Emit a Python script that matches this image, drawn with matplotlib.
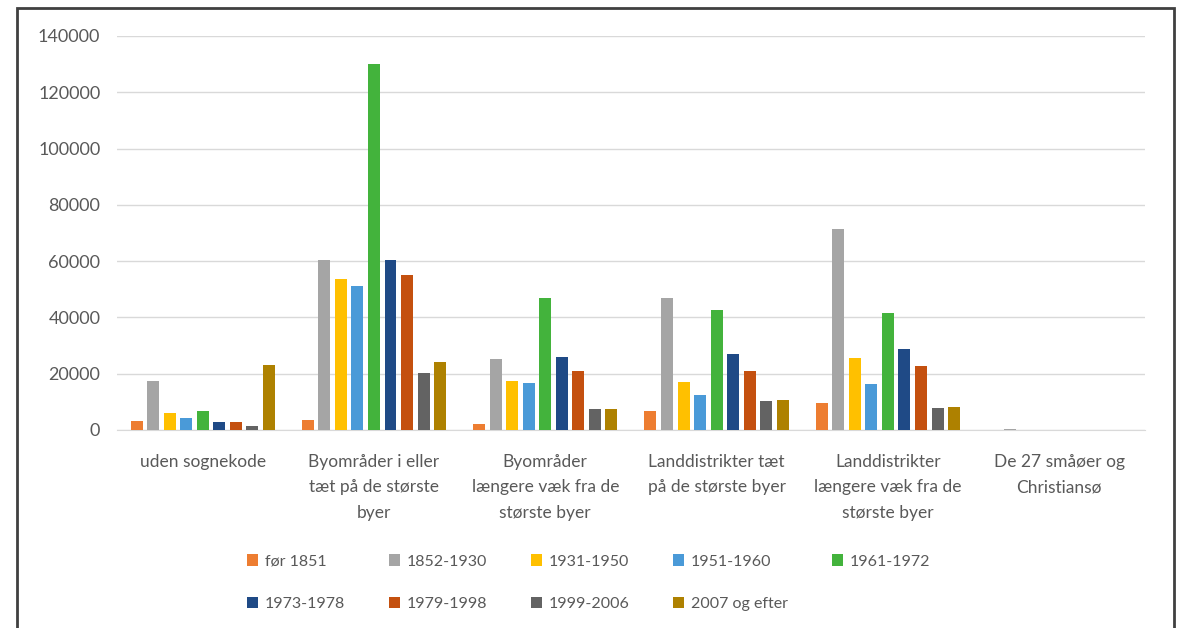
import matplotlib
matplotlib.use("Agg")
import matplotlib.pyplot as plt
import numpy as np
from matplotlib.patches import Rectangle

categories = [
    "uden sognekode",
    "Byområder i eller\ntæt på de største\nbyer",
    "Byområder\nlængere væk fra de\nstørste byer",
    "Landdistrikter tæt\npå de største byer",
    "Landdistrikter\nlængere væk fra de\nstørste byer",
    "De 27 småøer og\nChristiansø",
]
periods = ["før 1851", "1852-1930", "1931-1950", "1951-1960", "1961-1972",
           "1973-1978", "1979-1998", "1999-2006", "2007 og efter"]
colors = ["#ED7D31", "#A5A5A5", "#FFC000", "#4A9AD8", "#43B33C",
          "#1F4A86", "#C4500F", "#636363", "#AE8100"]

foer_1851 = [3200, 3600, 2000, 6700, 9600, 0]
p1852_1930 = [17500, 60500, 25200, 47000, 71500, 400]
p1931_1950 = [6100, 53500, 17500, 17000, 25500, 0]
p1951_1960 = [4200, 51000, 16800, 12400, 16500, 0]
p1961_1972 = [6700, 130000, 47000, 42500, 41500, 0]
p1973_1978 = [2800, 60500, 25900, 27000, 28800, 0]
p1979_1998 = [2800, 55000, 21000, 21000, 22700, 0]
p1999_2006 = [1400, 20200, 7400, 10300, 7900, 0]
p2007_efter = [23000, 24200, 7400, 10700, 8000, 0]
series = [foer_1851, p1852_1930, p1931_1950, p1951_1960, p1961_1972,
          p1973_1978, p1979_1998, p1999_2006, p2007_efter]

plt.rcParams["font.family"] = ["Lato", "DejaVu Sans"]
text_col = "#595959"

fig = plt.figure(figsize=(11.84, 6.28), dpi=100)
ax = fig.add_axes([0.0988, 0.3153, 0.8682, 0.6274])

x = np.arange(len(categories))
pitch = 0.0965
width = 0.07
bars = []
for i, (vals, col, lab) in enumerate(zip(series, colors, periods)):
    b = ax.bar(x + (i - 4) * pitch, vals, width=width, color=col, label=lab, zorder=3)
    bars.append(b)

ax.set_xlim(-0.5, len(categories) - 0.5)
ax.set_ylim(0, 140000)
ax.set_yticks(np.arange(0, 140001, 20000))
ax.yaxis.grid(True, color="#D9D9D9", linewidth=1, zorder=0)
for s in ["top", "right", "left"]:
    ax.spines[s].set_visible(False)
ax.spines["bottom"].set_color("#D9D9D9")
ax.tick_params(axis="y", length=0, labelsize=13, labelcolor=text_col, pad=12)
ax.set_xticks(x)
ax.set_xticklabels(categories, fontsize=12.5, color=text_col, linespacing=1.75)
ax.tick_params(axis="x", length=0, pad=17)

# row-wise legend order (matplotlib fills column by column)
order = [0, 5, 1, 6, 2, 7, 3, 8, 4]
leg = fig.legend([bars[k] for k in order], [periods[k] for k in order],
                 loc="upper center", bbox_to_anchor=(0.497, 1 - 540 / 628), ncol=5,
                 frameon=False, fontsize=11.5, handlelength=0.7, handleheight=0.7,
                 handletextpad=0.4, columnspacing=2.75, labelspacing=1.75,
                 labelcolor=text_col)

fig.patches.append(Rectangle((17 / 1184, -0.1), (1174 - 17) / 1184, 1.1 - 8 / 628,
                             transform=fig.transFigure, fill=False,
                             edgecolor="#404040", linewidth=2))

fig.savefig("out.png", dpi=100)
